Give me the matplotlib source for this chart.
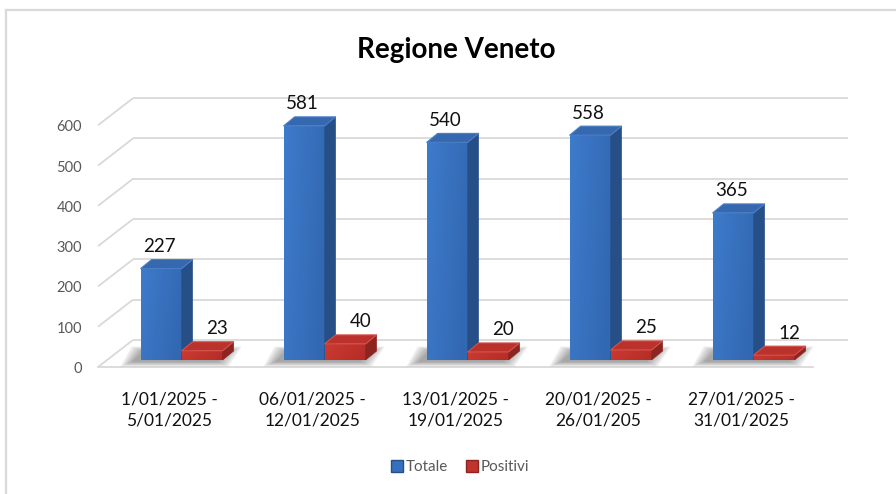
import matplotlib
matplotlib.use('Agg')
import matplotlib.pyplot as plt
from matplotlib.patches import Polygon
from matplotlib.lines import Line2D
import numpy as np

# ---------------- data ----------------
categories = ['1/01/2025 -\n5/01/2025', '06/01/2025 -\n12/01/2025',
              '13/01/2025 -\n19/01/2025', '20/01/2025 -\n26/01/205',
              '27/01/2025 -\n31/01/2025']
totale = [227, 581, 540, 558, 365]
positivi = [23, 40, 20, 25, 12]
yticks = [0, 100, 200, 300, 400, 500, 600]
series_names = ['Totale', 'Positivi']
title = 'Regione Veneto'

plt.rcParams['font.family'] = ['Lato', 'DejaVu Sans']

W, H = 896, 494
fig = plt.figure(figsize=(W / 100, H / 100), dpi=100)
ax = fig.add_axes([0, 0, 1, 1])

# pixel layout of the pseudo-3D projection
cx0, cw = 169.5, 143.0      # px of first category centre, px per category
vy0, vs = 367.0, 0.403      # px (from top) of value 0, px per value unit
ax.set_xlim(-cx0 / cw, (W - cx0) / cw)
ax.set_ylim((vy0 - H) / vs, vy0 / vs)
ax.axis('off')

DX, DY = 35 / cw, 27 / vs           # wall depth
BW = 41 / cw                        # bar width
BDX, BDY = 11 / cw, 9 / vs          # bar depth
BASE = 7 / vs                       # bar base offset (depth position)
SHIFT = 0.085                       # x shift of bar plane

grid_c = '#d9d9d9'
n = len(categories)
x0, x1 = -0.5, n - 0.5
for v in yticks:
    ax.plot([x0, x0 + DX], [v, v + DY], color=grid_c, lw=1.3, zorder=1,
            solid_capstyle='butt')
    ax.plot([x0 + DX, x1 + DX], [v + DY, v + DY], color=grid_c, lw=1.3,
            zorder=1, solid_capstyle='butt')
ax.plot([x0, x1], [0, 0], color=grid_c, lw=1.3, zorder=1)

idx = np.arange(n)
xb = idx - BW / 2 + SHIFT
xr = idx + BW / 2 + SHIFT

# soft shadows on the floor
for i in range(n):
    left = xb[i] - BW / 2
    right = xr[i] + BW / 2
    for k in range(6):
        e = k * 2.2
        sx = -9 / cw
        pts = [(left + sx - e / cw, BASE - (2 + e * 0.4) / vs),
               (right + sx + (4 + e) / cw, BASE - (2 + e * 0.4) / vs),
               (right + sx + BDX + (6 + e) / cw, BASE + BDY + (e * 0.4) / vs),
               (left + sx + BDX - e / cw, BASE + BDY + (e * 0.4) / vs)]
        ax.add_patch(Polygon(pts, closed=True, facecolor='#333333',
                             edgecolor='none', alpha=0.085, zorder=2))

styles = [
    dict(front=('#3d7bcb', '#3267b1'), mid='#376fbd', side='#264f88',
         top='#3668b0', rim='#4a7fc6'),
    dict(front=('#cc3a33', '#b52d27'), mid='#c1332d', side='#8c2420',
         top='#bb322c', rim='#d4524a'),
]

def draw_series(xc, vals, st, z):
    bars = ax.bar(xc, vals, width=BW, bottom=BASE, color=st['mid'],
                  edgecolor='none', zorder=z)
    cmap = matplotlib.colors.LinearSegmentedColormap.from_list(
        'g', list(st['front']))
    for rect, v in zip(bars, vals):
        l = rect.get_x()
        r = l + rect.get_width()
        b = rect.get_y()
        t = b + rect.get_height()
        gx = np.linspace(0, 1, 64).reshape(1, -1)
        gy = np.linspace(0, 1, 32).reshape(-1, 1)
        grad = np.clip(0.8 * gx + 0.25 * gy, 0, 1)
        im = ax.imshow(grad, extent=(l, r, b, t), cmap=cmap, aspect='auto',
                       zorder=z + 0.1, interpolation='bilinear',
                       origin='upper', vmin=0, vmax=1)
        im.set_clip_path(rect)
        side = Polygon([(r, b), (r + BDX, b + BDY), (r + BDX, t + BDY), (r, t)],
                       closed=True, facecolor=st['side'], edgecolor=st['side'],
                       lw=0.4, zorder=z + 0.2)
        top = Polygon([(l, t), (r, t), (r + BDX, t + BDY), (l + BDX, t + BDY)],
                      closed=True, facecolor=st['top'], edgecolor=st['rim'],
                      lw=0.8, joinstyle='round', zorder=z + 0.3)
        ax.add_patch(side)
        ax.add_patch(top)
    return bars

for i in range(n):
    draw_series([xb[i]], [totale[i]], styles[0], 3 + i)
    draw_series([xr[i]], [positivi[i]], styles[1], 3.5 + i)

# value labels
LBL = 22 / vs
for i in range(n):
    ax.text(xb[i] - 2 / cw, BASE + totale[i] + LBL, str(totale[i]),
            ha='center', va='center', fontsize=13.5, color='#111111', zorder=20)
    ax.text(xr[i] + 15 / cw, BASE + positivi[i] + LBL, str(positivi[i]),
            ha='center', va='center', fontsize=13.5, color='#111111', zorder=20)

# y tick labels
for v in yticks:
    ax.text((82 - cx0) / cw, v - 2 / vs, str(v), ha='right', va='center',
            fontsize=10.5, color='#595959')

# category labels
for i, c in enumerate(categories):
    ax.text(i, (vy0 - 410) / vs, c, ha='center', va='center', fontsize=12.5,
            color='#111111', linespacing=1.45)

# title
fig.text(456 / W, 1 - 50 / H, title, ha='center', va='center', fontsize=20,
         fontweight='bold', color='#000000')

# legend
handles = [Line2D([], [], marker='s', linestyle='none', markersize=8,
                  markerfacecolor=styles[0]['mid'],
                  markeredgecolor=styles[0]['side']),
           Line2D([], [], marker='s', linestyle='none', markersize=8,
                  markerfacecolor=styles[1]['mid'],
                  markeredgecolor=styles[1]['side'])]
leg = fig.legend(handles, series_names, loc='center', ncol=2,
                 bbox_to_anchor=(460 / W, 1 - 467 / H), frameon=False,
                 fontsize=11, handletextpad=0.15, columnspacing=1.2,
                 handlelength=0.8)
for t in leg.get_texts():
    t.set_color('#595959')

# chart border (left and top)
fig.add_artist(Line2D([6 / W, 6 / W], [0, 1 - 10 / H], color='#d9d9d9', lw=1.6,
                      transform=fig.transFigure))
fig.add_artist(Line2D([6 / W, 1], [1 - 10 / H, 1 - 10 / H], color='#d9d9d9',
                      lw=1.6, transform=fig.transFigure))

fig.savefig('out.png', dpi=100)
